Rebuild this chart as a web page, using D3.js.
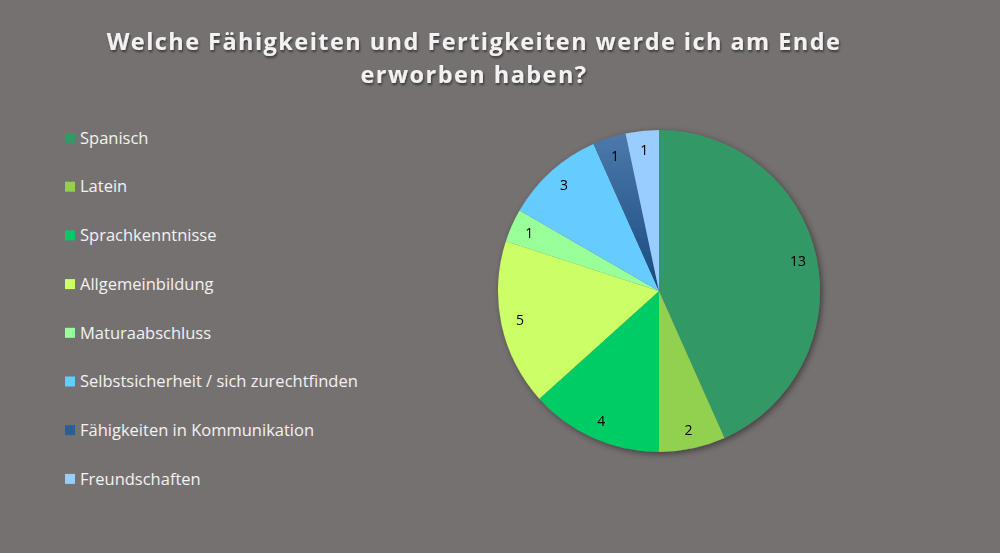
<!DOCTYPE html>
<html>
<head>
<meta charset="utf-8">
<script src="https://cdn.jsdelivr.net/npm/d3@7"></script>
<style>
  html, body { margin: 0; padding: 0; background: #767171; }
  svg { display: block; }
</style>
</head>
<body>
<div id="chart"></div>
<script>
// Daten
const categories = ['Spanisch', 'Latein', 'Sprachkenntnisse', 'Allgemeinbildung',
  'Maturaabschluss', 'Selbstsicherheit / sich zurechtfinden',
  'Fähigkeiten in Kommunikation', 'Freundschaften'];
const values = [13, 2, 4, 5, 1, 3, 1, 1];
const colors = ['#339966', '#92D050', '#00CC66', '#CCFF66', '#99FF99', '#66CCFF', 'url(#gradKomm)', '#99CCFF'];
const legendColors = ['#339966', '#92D050', '#00CC66', '#CCFF66', '#99FF99', '#66CCFF', '#2a5f96', '#99CCFF'];
const titleLines = ['Welche Fähigkeiten und Fertigkeiten werde ich am Ende', 'erworben haben?'];

const width = 1000, height = 553;
const cx = 659, cy = 291, radius = 161;

const svg = d3.select('#chart').append('svg')
  .attr('width', width)
  .attr('height', height);

const defs = svg.append('defs');
const grad = defs.append('linearGradient')
  .attr('id', 'gradKomm')
  .attr('gradientUnits', 'userSpaceOnUse')
  .attr('x1', 0).attr('y1', cy - radius).attr('x2', 0).attr('y2', cy);
grad.append('stop').attr('offset', '0%').attr('stop-color', '#4e7aad');
grad.append('stop').attr('offset', '100%').attr('stop-color', '#174a7e');

const shadow = defs.append('filter').attr('id', 'pieShadow')
  .attr('x', '-20%').attr('y', '-20%').attr('width', '140%').attr('height', '140%');
shadow.append('feDropShadow').attr('dx', 2).attr('dy', 2).attr('stdDeviation', 3)
  .attr('flood-color', '#000').attr('flood-opacity', 0.45);

const titleShadow = defs.append('filter').attr('id', 'titleShadow');
titleShadow.append('feDropShadow').attr('dx', 1).attr('dy', 2).attr('stdDeviation', 1.2)
  .attr('flood-color', '#000').attr('flood-opacity', 0.5);

// Titel
svg.append('g')
  .attr('filter', 'url(#titleShadow)')
  .selectAll('text')
  .data(titleLines)
  .enter()
  .append('text')
  .attr('x', 474)
  .attr('y', (d, i) => 50 + i * 33)
  .attr('text-anchor', 'middle')
  .style('font-family', '"Open Sans", sans-serif')
  .style('font-weight', 'bold')
  .style('font-size', '23.5px')
  .style('letter-spacing', '1.45px')
  .style('fill', '#f2f2f2')
  .text(d => d);

// Legende
const legend = svg.append('g')
  .selectAll('g')
  .data(categories)
  .enter()
  .append('g')
  .attr('transform', (d, i) => `translate(65, ${138 + i * 48.7})`);

legend.append('rect')
  .attr('x', 0).attr('y', -5)
  .attr('width', 10).attr('height', 10)
  .style('fill', (d, i) => legendColors[i]);

legend.append('text')
  .attr('x', 15)
  .attr('dy', '.35em')
  .style('font-family', '"Open Sans", sans-serif')
  .style('font-size', '16.5px')
  .style('fill', '#f2f2f2')
  .text(d => d);

// Kreisdiagramm
const pie = d3.pie().sort(null).value(d => d);
const arcs = pie(values);
const labelArc = d3.arc().innerRadius(142).outerRadius(142);

const g = svg.append('g').attr('transform', `translate(${cx},${cy})`);

g.append('g')
  .attr('filter', 'url(#pieShadow)')
  .selectAll('path')
  .data(arcs)
  .enter()
  .append('path')
  .attr('transform', `translate(${-cx},${-cy})`)
  .attr('d', d => {
    const p = d3.path();
    const a0 = d.startAngle - Math.PI / 2, a1 = d.endAngle - Math.PI / 2;
    p.moveTo(cx, cy);
    p.arc(cx, cy, radius, a0, a1);
    p.closePath();
    return p.toString();
  })
  .style('fill', (d, i) => colors[i]);

g.append('g')
  .selectAll('text')
  .data(arcs)
  .enter()
  .append('text')
  .attr('transform', d => `translate(${labelArc.centroid(d)})`)
  .attr('text-anchor', 'middle')
  .attr('dy', '.35em')
  .style('font-family', '"Open Sans", sans-serif')
  .style('font-size', '14px')
  .style('fill', '#000')
  .text(d => d.data);
</script>
</body>
</html>
